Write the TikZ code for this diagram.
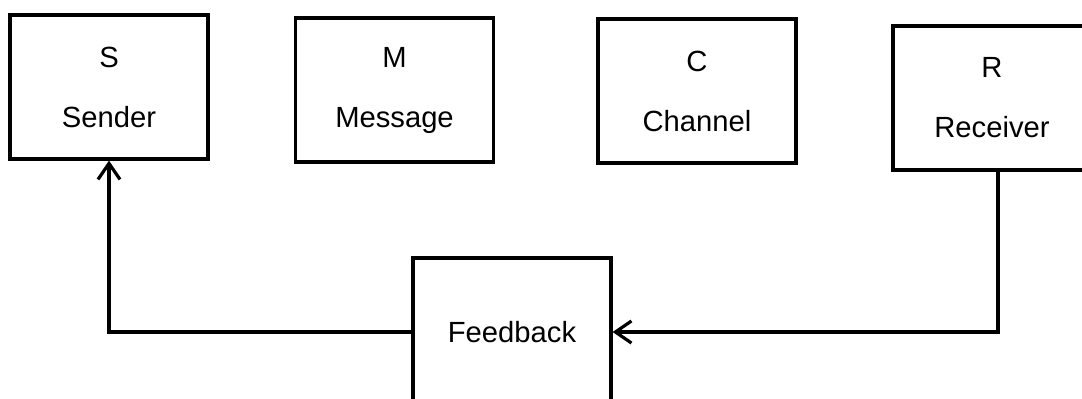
\documentclass[tikz,border=0pt]{standalone}
\usepackage{fontspec}
\setmainfont{Liberation Sans}
\usepackage{tikz}
\usetikzlibrary{arrows.meta}
\usetikzlibrary{positioning}
\tikzstyle{block} = [rectangle, minimum width=99pt, minimum height=72pt, text centered, align=center, draw=black, line width=1.6pt, font=\fontsize{14.6}{17}\selectfont]
\tikzstyle{arrow} = [line width=1.6pt,->,>={Straight Barb[length=8pt,width=11pt,line width=1.6pt]}]

\begin{document}
\begin{tikzpicture}[x=0.5pt,y=-0.5pt]

        \path[use as bounding box, clip] (0,0) rectangle (1082,398);

        \node (sender) [block] at (109,87) {S\\[13pt]Sender};
        \node (message) [block] at (394.5,90) {M\\[13pt]Message};
        \node (channel) [block] at (697,91) {C\\[13pt]Channel};
        \node (receiver) [block] at (992,98) {R\\[13pt]Receiver};
        \node (feedback) [block, minimum height=74pt] at (512,332) {Feedback};

        \draw [arrow] ([xshift=3pt]receiver.south) |- (feedback.east);
        \draw [arrow] (feedback.west) -| (sender.south);
    \end{tikzpicture}
\end{document}
